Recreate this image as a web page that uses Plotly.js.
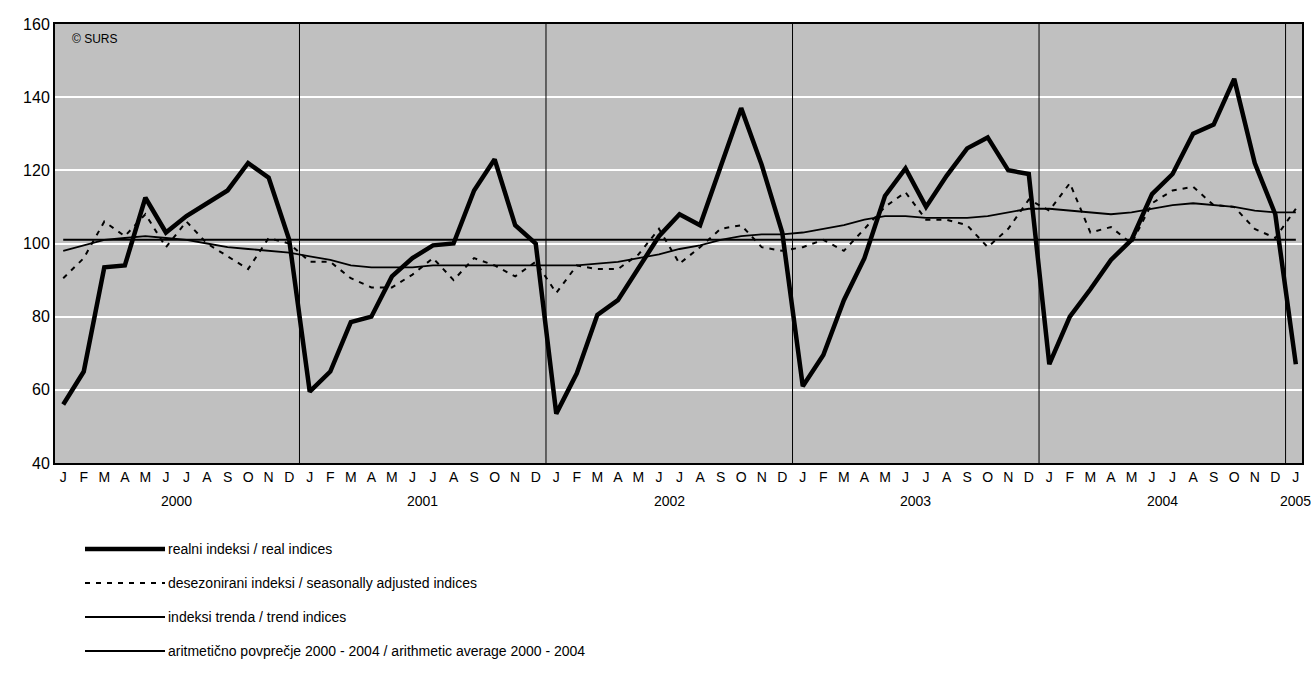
<!DOCTYPE html>
<html><head><meta charset="utf-8">
<script src="https://cdn.plot.ly/plotly-3.0.1.min.js"></script>
<style>body{margin:0;background:#fff}#c{width:1311px;height:691px}</style>
</head><body><div id="c"></div>
<script>
const monthLabels = ['J','F','M','A','M','J','J','A','S','O','N','D'];
const years = ['2000','2001','2002','2003','2004','2005'];
const real = [56,65,93.5,94,112.5,103,107.5,111,114.5,122,118,101,
59.5,65,78.5,80,91,96,99.5,100,114.5,123,105,100,
53.5,64.5,80.5,84.5,93,102,108,105,121,137,121.5,103,
61,69.5,84.5,96,113,120.5,110,118.5,126,129,120,119,
67,80,87.5,95.5,101,113.5,119,130,132.5,145,122,108,
67];
const seasAdj = [90.5,96,106,102,108,99,106,100,96.5,93,101.5,100,
95,95,90.5,88,88,91.5,96,90,96,94,91,95,
86.5,94,93,93,97,104,94.5,99,104,105,99,98,
99,101,98,104,110,114,106.5,106.5,105,99,104,112,
109,116.5,103,104.5,100,111,114.5,115.5,110.5,110,104,101.5,
109.5];
const trend = [98,99.5,101,101.5,102,101.5,101,100,99,98.5,98,97.5,
96.5,95.5,94,93.5,93.5,93.5,94,94,94,94,94,94,
94,94,94.5,95,96,97,98.5,99.5,101,102,102.5,102.5,
103,104,105,106.5,107.5,107.5,107,107,107,107.5,108.5,109.5,
109.5,109,108.5,108,108.5,109.5,110.5,111,110.5,110,109,108.5,
108.5];
const average = 101;
const legendTexts = ['realni indeksi / real indices','desezonirani indeksi / seasonally adjusted indices','indeksi trenda / trend indices','aritmetično povprečje 2000 - 2004 / arithmetic average 2000 - 2004'];

const n = real.length;
const xs = [...Array(n).keys()];
const tickText = xs.map(i => monthLabels[i % 12]);
const avgArr = xs.map(() => average);
const F = 'Arial, Liberation Sans, sans-serif';

const traces = [
 {x:xs,y:real,mode:'lines',line:{color:'#000',width:4.5},hoverinfo:'skip'},
 {x:xs,y:seasAdj,mode:'lines',line:{color:'#000',width:2,dash:'5px,6px'},hoverinfo:'skip'},
 {x:xs,y:trend,mode:'lines',line:{color:'#000',width:1.8},hoverinfo:'skip'},
 {x:xs,y:avgArr,mode:'lines',line:{color:'#000',width:2},hoverinfo:'skip'}
];
const shapes = [];
for (let y = 0; y < 5; y++) shapes.push({type:'line',xref:'x',yref:'paper',x0:11.5+12*y,x1:11.5+12*y,y0:0,y1:1,line:{color:'#000',width:1}});
const annotations = [{xref:'paper',yref:'paper',x:0.012,y:0.965,xanchor:'left',yanchor:'middle',text:'© SURS',showarrow:false,font:{family:F,size:12,color:'#000'}}];
years.forEach((yr,i)=>{
  const cx = i < 5 ? 5.5 + 12*i : 60;
  annotations.push({xref:'x',yref:'paper',x:cx,y:-0.063,yanchor:'top',text:yr,showarrow:false,font:{family:F,size:14,color:'#000'}});
});
const ly = [549,583,617,651];
const dashes = ['solid','5px,6px','solid','solid'];
const widths = [4.5,2,1.8,1.8];
legendTexts.forEach((t,i)=>{
  const yp = (463-ly[i])/439;
  shapes.push({type:'line',xref:'paper',yref:'paper',x0:(85-55)/1247,x1:(165-55)/1247,y0:yp,y1:yp,line:{color:'#000',width:widths[i],dash:dashes[i]}});
  annotations.push({xref:'paper',yref:'paper',x:(166-55)/1247,y:yp,xanchor:'left',yanchor:'middle',text:t,showarrow:false,font:{family:F,size:14,color:'#000'}});
});
const layout = {
  width:1311,height:691,margin:{l:55,r:9,t:24,b:228},
  paper_bgcolor:'#fff',plot_bgcolor:'#c0c0c0',showlegend:false,
  font:{family:F,size:14,color:'#000'},
  xaxis:{range:[-0.4,60.3],tickvals:xs,ticktext:tickText,showgrid:false,zeroline:false,showline:true,linecolor:'#000',linewidth:2,mirror:true,ticks:'',ticklen:0,tickfont:{family:F,size:14}},
  yaxis:{range:[40,160],dtick:20,showgrid:true,gridcolor:'#fff',gridwidth:2,zeroline:false,showline:true,linecolor:'#000',linewidth:2,mirror:true,ticks:'',tickfont:{family:F,size:16}},
  shapes, annotations
};
Plotly.newPlot('c',traces,layout,{staticPlot:true});
</script></body></html>
